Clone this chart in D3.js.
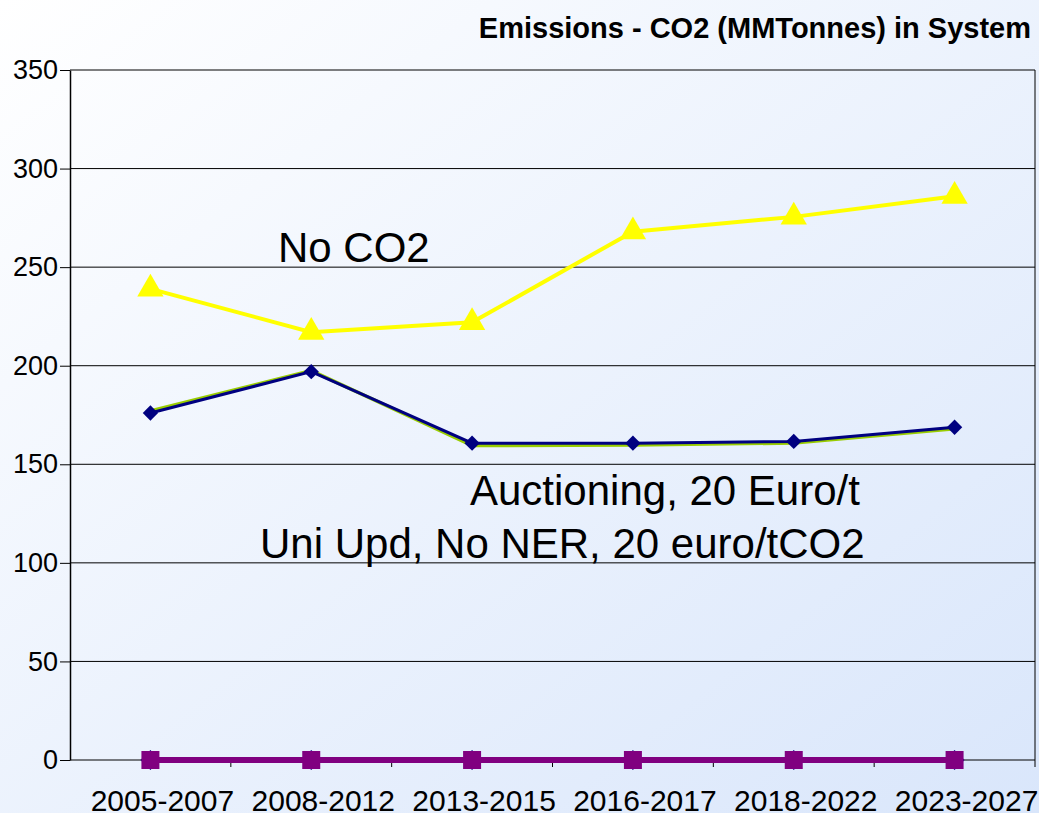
<!DOCTYPE html>
<html>
<head>
<meta charset="utf-8">
<script src="https://cdn.jsdelivr.net/npm/d3@7"></script>
<style>
  body { margin: 0; background: #fff; }
  svg { display: block; font-family: "Liberation Sans", Arial, sans-serif; }
</style>
</head>
<body>
<div id="chart"></div>
<script>
var periods = ["2005-2007", "2008-2012", "2013-2015", "2016-2017", "2018-2022", "2023-2027"];
var noCO2 = [239, 217, 222, 268, 275.5, 286];
var uniUpd = [177, 197.5, 159.5, 159.8, 160.8, 168];
var auctioning = [176, 197, 160.7, 160.7, 161.6, 168.8];
var zeroA = [0, 0, 0, 0, 0, 0];
var zeroB = [0, 0, 0, 0, 0, 0];
var yTicks = [0, 50, 100, 150, 200, 250, 300, 350];

var width = 1039, height = 813;
var plotLeft = 70, plotRight = 1035, plotTop = 70, plotBottom = 760;

var svg = d3.select("#chart").append("svg")
  .attr("width", width)
  .attr("height", height);

var defs = svg.append("defs");
var grad = defs.append("linearGradient")
  .attr("id", "bg")
  .attr("x1", "0%").attr("y1", "0%")
  .attr("x2", "100%").attr("y2", "100%");
grad.append("stop").attr("offset", "0%").attr("stop-color", "#ffffff");
grad.append("stop").attr("offset", "100%").attr("stop-color", "#d9e6fb");

svg.append("rect")
  .attr("width", width).attr("height", height)
  .attr("fill", "url(#bg)");

var x = d3.scaleBand()
  .domain(periods)
  .range([plotLeft, plotRight]);

var y = d3.scaleLinear()
  .domain([0, 350])
  .range([plotBottom, plotTop]);

// gridlines
svg.append("g").selectAll("line").data(yTicks).enter().append("line")
  .attr("x1", plotLeft).attr("x2", plotRight)
  .attr("y1", function(d){ return y(d); })
  .attr("y2", function(d){ return y(d); })
  .attr("stroke", "#000")
  .attr("stroke-width", 1);

// right border
svg.append("line")
  .attr("x1", plotRight).attr("x2", plotRight)
  .attr("y1", plotTop).attr("y2", plotBottom)
  .attr("stroke", "#000");

// y axis
var yAxis = svg.append("g")
  .attr("transform", "translate(" + plotLeft + ",0)")
  .call(d3.axisLeft(y).tickValues(yTicks).tickSize(10).tickSizeOuter(0).tickPadding(2));
yAxis.select(".domain").attr("stroke", "#000").attr("stroke-width", 1.5);
yAxis.selectAll("text").attr("font-size", 27).attr("fill", "#000")
  .attr("font-family", "Liberation Sans, Arial, sans-serif");

// x axis (labels sit a little right of the category centres, as in the original)
var xAxis = svg.append("g")
  .attr("transform", "translate(12," + plotBottom + ")")
  .call(d3.axisBottom(x).tickSize(0).tickPadding(30));
xAxis.select(".domain").remove();
xAxis.selectAll("text").attr("font-size", 30).attr("fill", "#000")
  .attr("font-family", "Liberation Sans, Arial, sans-serif");

// x tick marks at band boundaries
var bounds = periods.map(function(p){ return x(p); }).concat([plotRight]);
svg.append("g").selectAll("line").data(bounds.slice(1)).enter().append("line")
  .attr("x1", function(d){ return d; }).attr("x2", function(d){ return d; })
  .attr("y1", plotBottom).attr("y2", plotBottom + 7)
  .attr("stroke", "#000");

function cx(i){ return x(periods[i]) + x.bandwidth() / 2; }

var line = d3.line()
  .x(function(d, i){ return cx(i); })
  .y(function(d){ return y(d); });

function drawSeries(vals, color, w, symbol, size){
  svg.append("path")
    .datum(vals)
    .attr("d", line)
    .attr("fill", "none")
    .attr("stroke", color)
    .attr("stroke-width", w);
  if (symbol) {
    svg.append("g").selectAll("path").data(vals).enter().append("path")
      .attr("d", d3.symbol().type(symbol).size(size))
      .attr("transform", function(d, i){
        return "translate(" + cx(i) + "," + y(d) + ")";
      })
      .attr("fill", color);
  }
}

drawSeries(zeroB, "#000080", 3, d3.symbolDiamond2, 250);
drawSeries(zeroA, "#800080", 6, d3.symbolSquare, 324);
drawSeries(uniUpd, "#99cc00", 3.5);
drawSeries(auctioning, "#000080", 3, d3.symbolDiamond2, 150);
drawSeries(noCO2, "#ffff00", 4, d3.symbolTriangle, 300);

// annotations
var notes = [
  { text: "No CO2", x: 278, y: 262 },
  { text: "Auctioning, 20 Euro/t", x: 470, y: 505 },
  { text: "Uni Upd, No NER, 20 euro/tCO2", x: 260, y: 558 }
];
svg.append("g").selectAll("text").data(notes).enter().append("text")
  .attr("x", function(d){ return d.x; })
  .attr("y", function(d){ return d.y; })
  .attr("font-size", 42)
  .attr("fill", "#000")
  .text(function(d){ return d.text; });

// title
svg.append("text")
  .attr("x", 1031).attr("y", 38)
  .attr("text-anchor", "end")
  .attr("font-size", 29)
  .attr("font-weight", "bold")
  .attr("fill", "#000")
  .text("Emissions - CO2 (MMTonnes) in System");
</script>
</body>
</html>
